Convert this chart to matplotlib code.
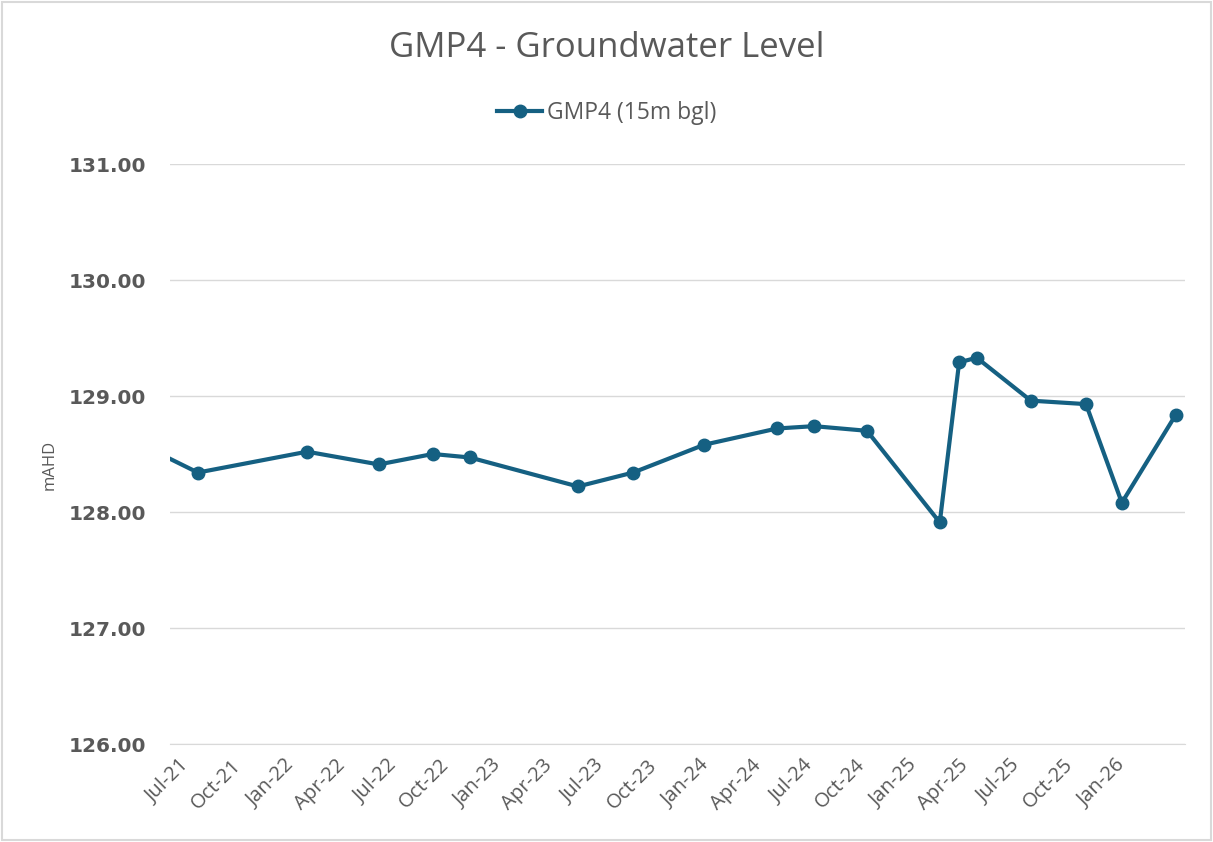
import matplotlib
matplotlib.use("Agg")
import matplotlib.pyplot as plt
import matplotlib.dates as mdates
import numpy as np
import pandas as pd

# GMP4 groundwater level readings (mAHD)
dates = ["2021-04-01", "2021-08-03", "2022-02-11", "2022-06-17", "2022-09-20",
         "2022-11-24", "2023-06-02", "2023-09-07", "2024-01-10", "2024-05-17",
         "2024-07-21", "2024-10-22", "2025-02-27", "2025-04-02", "2025-05-03",
         "2025-08-06", "2025-11-11", "2026-01-13", "2026-04-18"]
levels = [128.64, 128.34, 128.52, 128.41, 128.50,
          128.47, 128.22, 128.34, 128.58, 128.72,
          128.74, 128.70, 127.91, 129.29, 129.33,
          128.96, 128.93, 128.08, 128.84]
series_name = "GMP4 (15m bgl)"
title = "GMP4 - Groundwater Level"
y_label = "mAHD"
tick_dates = pd.date_range("2021-07-01", "2026-01-01", freq="3MS")

x = pd.to_datetime(dates)
grey = "#595959"
blue = "#156082"

fig = plt.figure(figsize=(12.13, 8.42), dpi=100)
ax = fig.add_axes([170 / 1213, 1 - 744 / 842, 1015 / 1213, 580 / 842])

ax.plot(x, levels, color=blue, lw=3, marker="o", markersize=9,
        label=series_name, solid_joinstyle="round")

ax.set_xlim(pd.Timestamp("2021-06-15"), pd.Timestamp("2026-05-04"))
ax.set_ylim(126, 131)
ax.set_yticks(np.arange(126, 131.5, 1))
ax.yaxis.set_major_formatter(matplotlib.ticker.FormatStrFormatter("%.2f"))
ax.set_xticks(tick_dates)
ax.xaxis.set_major_formatter(mdates.DateFormatter("%b-%y"))

ax.grid(axis="y", color="#D9D9D9", lw=1)
ax.set_axisbelow(True)
for s in ax.spines.values():
    s.set_visible(False)
ax.spines["bottom"].set_visible(True)
ax.spines["bottom"].set_color("#D9D9D9")
ax.tick_params(axis="both", length=0)
ax.tick_params(axis="y", pad=17)
ax.tick_params(axis="x", pad=8)

for lab in ax.get_yticklabels():
    lab.set_fontfamily("DejaVu Sans")
    lab.set_fontweight("bold")
    lab.set_fontsize(14.5)
    lab.set_color(grey)
for lab in ax.get_xticklabels():
    lab.set_fontfamily("Open Sans")
    lab.set_fontsize(14.5)
    lab.set_color(grey)
    lab.set_rotation(45)
    lab.set_ha("right")
    lab.set_va("top")
    lab.set_rotation_mode("anchor")

fig.text(50 / 1213, 1 - 465 / 842, y_label, rotation=90, ha="center",
         va="center", fontsize=12, color=grey, family="Open Sans")
fig.text(0.5, 1 - 48 / 842, title, ha="center", va="center",
         fontsize=25, color=grey, family="Open Sans")

leg = ax.legend(loc="center", bbox_to_anchor=(0.5, 1 - 113 / 842),
                bbox_transform=fig.transFigure, frameon=False,
                prop={"family": "Open Sans", "size": 16.5}, handlelength=2.0,
                handletextpad=0.2)
for t in leg.get_texts():
    t.set_color(grey)

fig.patches.append(plt.Rectangle((0.002, 0.002), 0.996, 0.996, fill=False,
                                 edgecolor="#D9D9D9", lw=1.5,
                                 transform=fig.transFigure, figure=fig))

fig.savefig("out.png", dpi=100)
